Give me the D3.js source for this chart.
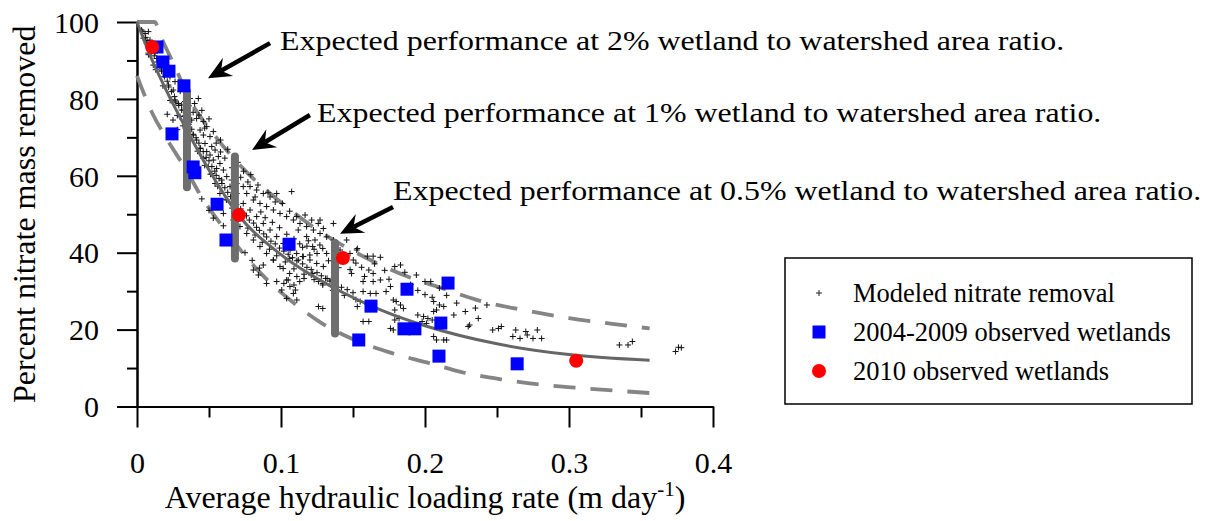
<!DOCTYPE html>
<html>
<head>
<meta charset="utf-8">
<script src="https://cdn.jsdelivr.net/npm/d3@7"></script>
<style>
  body { margin: 0; background: #fff; }
  text { font-family: "Liberation Serif", "Times New Roman", serif; fill: #000; }
</style>
</head>
<body>
<div id="chart-area"></div>
<script>
// tick values
const xTicks = [0, 0.1, 0.2, 0.3, 0.4]
const xMinorTicks = [0.05, 0.15, 0.25, 0.35]
const yTicks = [0, 20, 40, 60, 80, 100]
const yMinorTicks = [10, 30, 50, 70, 90]

// fitted curve and its band
const centerCurve = [[0,100],[0.01,90.5],[0.02,82.5],[0.033,73],[0.05,61.5],[0.07,50],[0.1,39.5],[0.136,31],[0.17,25],[0.2,21],[0.25,16.3],[0.3,13.5],[0.356,12]]
const upperCurve = [[0,100],[0.012,100],[0.018,95],[0.028,87],[0.035,81],[0.055,70],[0.076,61],[0.097,54],[0.125,46],[0.16,38.5],[0.19,33.5],[0.21,31],[0.24,27.3],[0.27,25],[0.3,23],[0.33,21.5],[0.356,20.3]]
const lowerCurve = [[0,86],[0.011,76],[0.02,70],[0.035,61],[0.044,55],[0.058,47.5],[0.085,35],[0.107,27.5],[0.129,21.5],[0.15,17.5],[0.176,14],[0.203,11.3],[0.226,8.9],[0.254,7],[0.28,5.7],[0.308,4.8],[0.333,4.1],[0.356,3.5]]

// expected performance ranges: [x, low, high]
const ranges = [[0.0347, 57, 82], [0.068, 38.5, 65], [0.1375, 19, 42.5]]

// observed wetlands
const obs0409 = [[0.0139,93.5],[0.018,89.6],[0.0222,87.2],[0.0326,83.4],[0.0243,70.9],[0.039,62.3],[0.0402,60.8],[0.0556,52.6],[0.0618,43.3],[0.1056,42.2],[0.216,32.1],[0.1875,30.5],[0.1625,26.1],[0.211,21.7],[0.1854,20.2],[0.193,20.2],[0.154,17.3],[0.2097,13.1],[0.264,11.1]]
const obs2010 = [[0.0106,93.5],[0.0708,49.8],[0.143,38.6],[0.305,11.9]]

// modeled nitrate removal
const modeled = [
  [0.0032,97.9],[0.0056,97.0],[0.0079,97.5],[0.0044,95.8],[0.009,95.3],[0.0067,94.5],[0.0113,93.6],[0.0102,92.3],[0.0125,91.9],[0.0079,91.9],
  [0.0137,90.5],[0.016,89.2],[0.0113,88.8],[0.0171,87.5],[0.0206,86.6],[0.0229,85.8],[0.0264,84.5],[0.0218,83.6],[0.0252,82.3],[0.0241,79.7],
  [0.0264,79.7],[0.0287,78.8],[0.031,78.4],[0.0333,79.3],[0.0368,80.1],[0.0426,80.1],[0.0322,77.1],[0.0357,75.8],[0.0299,75.4],[0.038,74.5],
  [0.0345,73.6],[0.0414,74.9],[0.0461,74.1],[0.0484,72.8],[0.0438,71.9],[0.0391,70.6],[0.0461,70.6],[0.0507,70.2],[0.0414,69.3],[0.0472,68.4],
  [0.0438,67.1],[0.0519,67.6],[0.0484,66.3],[0.0542,66.7],[0.0507,65.4],[0.0461,64.5],[0.0565,65.0],[0.053,64.1],[0.0576,63.2],[0.0495,62.4],
  [0.0553,61.9],[0.06,61.5],[0.0519,60.6],[0.0623,59.8],[0.0588,58.9],[0.0542,58.0],[0.0657,58.9],[0.0692,58.0],[0.0738,57.2],[0.0785,57.2],
  [0.0831,56.3],[0.0877,55.4],[0.0924,54.5],[0.097,55.4],[0.1074,55.9],[0.0762,55.4],[0.0808,53.7],[0.0854,52.8],[0.09,52.0],[0.0947,51.1],
  [0.0993,50.2],[0.1039,49.4],[0.1086,48.5],[0.1132,47.6],[0.1178,46.8],[0.1225,45.9],[0.1271,45.0],[0.1317,44.1],[0.1364,43.3],[0.1167,49.8],
  [0.1213,48.5],[0.1259,47.6],[0.1294,46.3],[0.0576,55.4],[0.0623,53.7],[0.0565,52.0],[0.06,50.2],[0.0669,48.5],[0.0715,46.8],[0.0762,45.0],
  [0.0808,43.3],[0.0854,41.6],[0.09,39.8],[0.0947,38.1],[0.0993,36.4],[0.0646,57.2],[0.0692,55.4],[0.0738,52.8],[0.0785,51.1],[0.0831,49.4],
  [0.0877,47.6],[0.0924,45.9],[0.097,44.2],[0.1016,42.4],[0.1063,40.7],[0.1109,39.8],[0.1155,39.0],[0.1201,38.1],[0.1248,37.2],[0.1294,36.4],
  [0.1109,49.4],[0.1178,44.2],[0.1236,43.3],[0.1317,39.8],[0.141,40.7],[0.1479,39.8],[0.1502,38.1],[0.1271,48.5],[0.1364,47.6],[0.1456,43.3],
  [0.1526,40.7],[0.021,76.0],[0.025,74.5],[0.028,72.0],[0.045,54.0],[0.05,51.0],[0.053,49.0],[0.06,47.0],[0.065,44.0],[0.075,40.0],
  [0.08,38.0],[0.085,36.0],[0.0947,38.1],[0.1015,35.9],[0.1039,32.9],[0.1062,31.2],[0.1086,29.4],[0.1039,28.1],[0.0808,35.5],[0.0877,36.8],
  [0.09,32.0],[0.097,32.5],[0.1005,30.3],[0.0843,34.2],[0.106,38.5],[0.112,38.1],[0.115,39.0],[0.12,39.4],[0.125,39.8],[0.129,41.1],
  [0.127,42.0],[0.122,41.6],[0.118,41.7],[0.113,42.3],[0.102,32.0],[0.105,32.9],[0.109,31.6],[0.11,30.3],[0.113,32.5],[0.106,34.6],
  [0.111,33.8],[0.116,33.3],[0.122,34.6],[0.126,32.5],[0.129,32.0],[0.132,33.3],[0.135,32.9],[0.111,27.7],[0.126,26.0],[0.129,25.5],
  [0.121,34.2],[0.153,41.1],[0.16,39.1],[0.164,39.1],[0.169,38.8],[0.161,35.5],[0.164,34.6],[0.149,34.6],[0.169,32.9],[0.157,32.5],
  [0.164,32.5],[0.166,29.4],[0.162,29.4],[0.157,29.9],[0.155,27.3],[0.153,26.0],[0.157,22.1],[0.161,22.1],[0.179,36.4],[0.183,36.8],
  [0.194,34.2],[0.2,32.5],[0.204,32.5],[0.176,31.2],[0.173,29.9],[0.178,27.7],[0.18,27.3],[0.183,26.4],[0.185,25.5],[0.179,25.1],
  [0.182,22.9],[0.179,22.5],[0.176,20.3],[0.178,19.9],[0.206,27.3],[0.21,26.4],[0.213,26.0],[0.208,25.1],[0.206,24.7],[0.22,23.8],
  [0.195,23.8],[0.199,23.4],[0.202,22.9],[0.205,22.5],[0.198,22.1],[0.201,21.6],[0.206,18.2],[0.208,17.3],[0.213,17.3],[0.215,17.3],
  [0.231,21.2],[0.23,20.8],[0.237,22.9],[0.243,26.4],[0.247,19.9],[0.251,20.3],[0.253,20.8],[0.263,19.9],[0.27,19.5],[0.271,18.6],
  [0.278,19.9],[0.261,18.2],[0.266,17.7],[0.281,17.7],[0.275,17.7],[0.335,16.0],[0.341,16.0],[0.344,16.9],[0.374,14.3],[0.376,15.4],
  [0.378,15.3],
  // dense streak along the fitted line
  [0.004,97.5],[0.006,96],[0.007,95.2],[0.009,93.8],[0.011,92.5],[0.012,91.2],[0.014,89.6],[0.016,88.4],[0.017,87.2],[0.019,85.8],
  [0.021,84.6],[0.022,83.1],[0.024,81.9],[0.026,80.6],[0.027,79.2],[0.029,78.3],[0.031,77.1],[0.033,75.6],[0.034,74.2],[0.036,73.4],
  [0.038,72.1],[0.039,70.8],[0.041,69.9],[0.043,68.5],[0.044,67.2],[0.046,66.3],[0.048,64.8],[0.05,63.9],[0.052,62.4],[0.054,61.2],
  [0.055,60.1],[0.057,59.3],[0.059,58.0],[0.061,56.9],[0.063,55.7],[0.065,54.6],[0.067,53.4],[0.069,52.5],[0.072,51.4],[0.074,50.3],
  [0.076,49.6],[0.078,48.5],[0.081,47.7],[0.083,46.6],[0.085,45.8],[0.088,44.9],[0.09,44.1],[0.093,43.0],[0.096,42.3],[0.099,41.2],
  [0.102,40.4],[0.105,39.6],[0.108,38.7],[0.111,37.9],[0.115,37.1],[0.118,36.2],[0.121,35.6],[0.125,34.8],[0.128,34.0],[0.131,33.3],
  [0.134,32.6],[0.138,31.9],[0.142,31.0],[0.146,30.4],[0.15,29.6],
  [0.008,91.5],[0.013,87.6],[0.018,83.4],[0.023,79.6],[0.028,75.7],[0.032,73.0],[0.037,69.2],[0.042,66.4],[0.047,62.7],[0.051,60.4],
  [0.056,57.3],[0.062,53.9],[0.066,51.6],[0.071,49.0],[0.077,46.4],[0.082,44.6],[0.087,42.7],[0.092,40.9],[0.097,39.2],[0.103,37.6],
  [0.109,35.8],[0.116,34.4],[0.123,33.0],[0.129,31.6],[0.136,30.2],[0.144,28.9],[0.152,27.8],[0.16,26.5],
  // scatter toward the upper band
  [0.030,82],[0.036,78.2],[0.039,76.5],[0.04,78.8],[0.043,75.8],[0.045,77],[0.047,72.4],[0.05,74.8],[0.053,71.5],[0.055,68.5],
  [0.058,69.3],[0.058,66.2],[0.061,64.6],[0.063,66.9],[0.066,62.1],[0.068,60.8],[0.07,63.5],[0.072,59.6],[0.074,61.2],[0.077,58.4],
  [0.079,60.3],[0.082,54.5],[0.084,57.6],[0.086,50.6],[0.089,49.1],[0.091,55.6],[0.094,47.9],[0.096,53.2],[0.099,46.5],[0.101,52.8],
  [0.104,44.8],[0.106,50.8],[0.109,43.6],[0.112,45.9],[0.115,41.4],[0.119,43.1],[0.123,40.9],[0.133,37.9],[0.137,40.3],[0.14,36.1],
  [0.145,38.2],[0.148,35.6],[0.152,37.3],[0.156,36.2],[0.158,33.8],[0.165,37.1],[0.172,35.4],[0.175,33.1],[0.186,34.9],[0.19,31.7],
  [0.195,30.2],[0.2,29.1],[0.205,28.4],[0.21,30.8],[0.215,28.9],[0.222,26.9],[0.228,24.7],[0.235,25.6]
]

// annotations: text anchor and arrow tail / tip in data units
const notes = [
  {text: "Expected performance at 2% wetland to watershed area ratio.", at: [0.0993, 92.7], tail: [0.0924, 94.5], tip: [0.0493, 85.4]},
  {text: "Expected performance at 1% wetland to watershed area ratio.", at: [0.125, 74.0], tail: [0.1201, 75.8], tip: [0.0799, 66.7]},
  {text: "Expected performance at 0.5% wetland to watershed area ratio.", at: [0.1778, 53.7], tail: [0.1778, 51.9], tip: [0.141, 44.9]}
]

const legendItems = ["Modeled nitrate removal", "2004-2009 observed wetlands", "2010 observed wetlands"]

const MARGIN = {LEFT:137, RIGHT:493, TOP:22, BOTTOM:114.5}
const W = 1206, H = 521
const WIDTH = W - MARGIN.LEFT - MARGIN.RIGHT
const HEIGHT = H - MARGIN.TOP - MARGIN.BOTTOM

const svg = d3.select("#chart-area").append("svg")
  .attr("width", W)
  .attr("height", H)

const g = svg.append("g")
  .attr("transform", `translate(${MARGIN.LEFT},${MARGIN.TOP})`)

const x = d3.scaleLinear().domain([0, 0.4]).range([0, WIDTH])
const y = d3.scaleLinear().domain([0, 100]).range([HEIGHT, 0])

// axes
const styleAxis = sel => {
  sel.attr("font-family", null)
  sel.select(".domain").attr("stroke", "#000").attr("stroke-width", 2)
  sel.selectAll(".tick line").attr("stroke", "#000").attr("stroke-width", 2)
  sel.selectAll(".tick text").style("font-family", '"Liberation Serif", serif').style("font-size", "30px").attr("fill", "#000")
}

g.append("g").call(d3.axisLeft(y).tickValues(yMinorTicks).tickSize(10).tickSizeOuter(0).tickFormat(""))
  .call(styleAxis)
g.append("g").call(d3.axisLeft(y).tickValues(yTicks).tickSize(20).tickSizeOuter(0).tickPadding(18).tickFormat(d3.format("d")))
  .call(styleAxis)
  .selectAll(".tick text").attr("dy", "0.34em")

g.append("g").attr("transform", `translate(0,${HEIGHT})`)
  .call(d3.axisBottom(x).tickValues(xMinorTicks).tickSize(11).tickSizeOuter(0).tickFormat(""))
  .call(styleAxis)
g.append("g").attr("transform", `translate(0,${HEIGHT})`)
  .call(d3.axisBottom(x).tickValues(xTicks).tickSize(21).tickSizeOuter(0).tickPadding(0).tickFormat(d => d === 0 ? "0" : d3.format(".1f")(d)))
  .call(styleAxis)
  .selectAll(".tick text").attr("dy", null).attr("y", 66)

// axis labels
g.append("text")
  .attr("transform", "rotate(-90)")
  .attr("x", -HEIGHT / 2)
  .attr("y", -102)
  .attr("text-anchor", "middle")
  .attr("font-size", "32px")
  .text("Percent nitrate mass removed")

const xl = g.append("text")
  .attr("x", WIDTH / 2)
  .attr("y", HEIGHT + 101)
  .attr("text-anchor", "middle")
  .attr("font-size", "32px")
xl.append("tspan").text("Average hydraulic loading rate (m day")
xl.append("tspan").attr("font-size", "21px").attr("dy", "-12").text("-1")
xl.append("tspan").attr("dy", "12").text(")")

const line = d3.line().x(d => x(d[0])).y(d => y(d[1])).curve(d3.curveMonotoneX)

// band
g.selectAll(".band").data([upperCurve, lowerCurve]).enter().append("path")
  .attr("class", "band")
  .attr("d", line)
  .attr("fill", "none")
  .attr("stroke", "#858585")
  .attr("stroke-width", 3.8)
  .attr("stroke-dasharray", "22,15")

// modeled points
g.selectAll(".mod").data(modeled).enter().append("path")
  .attr("class", "mod")
  .attr("transform", d => `translate(${x(d[0])},${y(d[1])})`)
  .attr("d", "M-3,0H3M0,-3V3")
  .attr("stroke", "#111")
  .attr("stroke-width", 1)

// center curve
g.append("path")
  .attr("d", line(centerCurve))
  .attr("fill", "none")
  .attr("stroke", "#666")
  .attr("stroke-width", 3)

// expected performance ranges
g.selectAll(".range").data(ranges).enter().append("line")
  .attr("x1", d => x(d[0])).attr("x2", d => x(d[0]))
  .attr("y1", d => y(d[1])).attr("y2", d => y(d[2]))
  .attr("stroke", "#6e6e6e")
  .attr("stroke-width", 8)
  .attr("stroke-linecap", "round")

// observed
const SQ = 13
g.selectAll(".sq").data(obs0409).enter().append("rect")
  .attr("x", d => x(d[0]) - SQ / 2)
  .attr("y", d => y(d[1]) - SQ / 2)
  .attr("width", SQ).attr("height", SQ)
  .attr("fill", "#0000ff")

g.selectAll(".dot").data(obs2010).enter().append("circle")
  .attr("cx", d => x(d[0]))
  .attr("cy", d => y(d[1]))
  .attr("r", 7)
  .attr("fill", "#ff0000")

// annotations (the original text is drawn a bit wider than normal)
const SX = 1.14
notes.forEach(n => {
  const [px, py] = [x(n.tip[0]), y(n.tip[1])]
  const [qx, qy] = [x(n.tail[0]), y(n.tail[1])]
  const len = Math.hypot(px - qx, py - qy)
  const ux = (px - qx) / len, uy = (py - qy) / len
  const nx = -uy, ny = ux
  const L = 23, w = 10.5, notch = 15
  g.append("line")
    .attr("x1", qx).attr("y1", qy)
    .attr("x2", px - ux * notch).attr("y2", py - uy * notch)
    .attr("stroke", "#000").attr("stroke-width", 4.5)
  g.append("path")
    .attr("d", `M${px},${py}L${px - ux * L + nx * w},${py - uy * L + ny * w}L${px - ux * notch},${py - uy * notch}L${px - ux * L - nx * w},${py - uy * L - ny * w}Z`)
    .attr("fill", "#000")
  const t = g.append("text")
    .attr("x", x(n.at[0]))
    .attr("y", y(n.at[1]))
    .attr("font-size", "28px")
    .text(n.text)
  t.attr("textLength", t.node().getComputedTextLength() * SX)
    .attr("lengthAdjust", "spacingAndGlyphs")
})

// legend
const legend = svg.append("g").attr("transform", "translate(785,258)")
legend.append("rect")
  .attr("width", 407).attr("height", 146)
  .attr("fill", "none").attr("stroke", "#000").attr("stroke-width", 1.5)

legendItems.forEach((label, i) => {
  const row = legend.append("g").attr("transform", `translate(34,${35 + i * 39})`)
  if (i === 0) {
    row.append("path").attr("d", "M-3,0H3M0,-3V3").attr("stroke", "#222").attr("stroke-width", 1)
  } else if (i === 1) {
    row.append("rect").attr("x", -6.5).attr("y", -6.5).attr("width", 13).attr("height", 13).attr("fill", "#0000ff")
  } else {
    row.append("circle").attr("r", 7).attr("fill", "#ff0000")
  }
  row.append("text")
    .attr("x", 34)
    .attr("y", 9)
    .attr("font-size", "26.5px")
    .text(label)
})
</script>
</body>
</html>
